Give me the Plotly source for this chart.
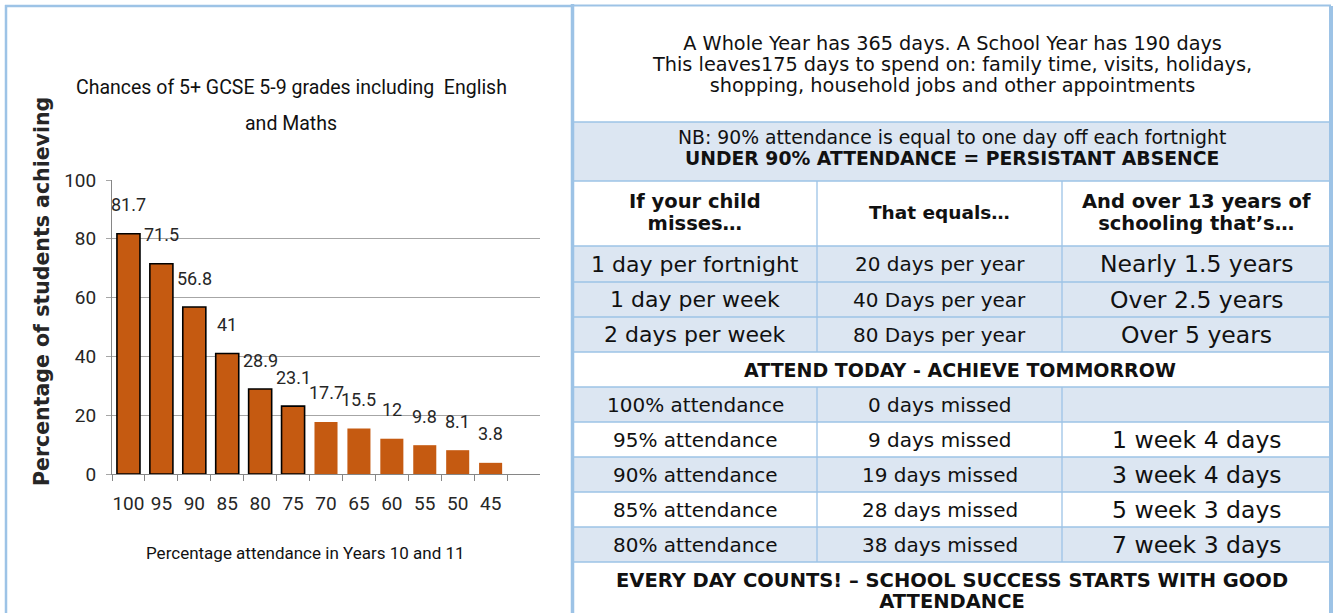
import plotly.graph_objects as go

W, H = 1335, 613

# ---------------- data ----------------
attendance = ["100", "95", "90", "85", "80", "75", "70", "65", "60", "55", "50", "45"]
achieving = [81.7, 71.5, 56.8, 41, 28.9, 23.1, 17.7, 15.5, 12, 9.8, 8.1, 3.8]
outlined = [True, True, True, True, True, True, False, False, False, False, False, False]

chart_title = ["Chances of 5+ GCSE 5-9 grades including  English", "and Maths"]
y_title = "Percentage of students achieving"
x_title = "Percentage attendance in Years 10 and 11"

intro_lines = [
    "A Whole Year has 365 days. A School Year has 190 days",
    "This leaves175 days to spend on: family time, visits, holidays,",
    "shopping, household jobs and other appointments",
]
nb_line = "NB: 90% attendance is equal to one day off each fortnight"
pa_line = "UNDER 90% ATTENDANCE = PERSISTANT ABSENCE"
header_cols = [["If your child", "misses…"], ["That equals…"], ["And over 13 years of", "schooling that’s…"]]
miss_freq = ["1 day per fortnight", "1 day per week", "2 days per week"]
miss_per_year = ["20 days per year", "40 Days per year", "80 Days per year"]
miss_13_years = ["Nearly 1.5 years", "Over 2.5 years", "Over 5 years"]
motto = "ATTEND TODAY - ACHIEVE TOMMORROW"
att_rates = ["100% attendance", "95% attendance", "90% attendance", "85% attendance", "80% attendance"]
days_missed = ["0 days missed", "9 days missed", "19 days missed", "28 days missed", "38 days missed"]
weeks_missed = ["", "1 week 4 days", "3 week 4 days", "5 week 3 days", "7 week 3 days"]
footer_lines = ["EVERY DAY COUNTS! – SCHOOL SUCCESS STARTS WITH GOOD", "ATTENDANCE"]

# ---------------- styles ----------------
BAR = "#C55A11"
BORDER = "#9DC3E6"
BLUE = "#DCE6F2"
CFONT = "Roboto, Liberation Sans, sans-serif"
TFONT = "DejaVu Sans, Verdana, sans-serif"
TXT = "#111111"


def px(x):
    return x / W


def py(y):
    return 1 - y / H


fig = go.Figure()
fig.add_trace(go.Bar(
    x=attendance, y=achieving, width=0.7,
    marker=dict(color=BAR,
                line=dict(color="black", width=[1.6 if o else 0 for o in outlined])),
    hoverinfo="x+y", showlegend=False,
))

annotations = []
# data labels (placed by category index on the category axis)
for i, v in enumerate(achieving):
    annotations.append(dict(x=i, y=v, xref="x", yref="y", text=f"{v:g}", showarrow=False,
                            xanchor="center", yanchor="middle", yshift=29,
                            font=dict(family=CFONT, size=18, color="#262626")))

# chart title & axis titles
for txt, yy in zip(chart_title, [87, 123]):
    annotations.append(dict(x=px(291), y=py(yy), xref="paper", yref="paper", text=txt,
                            xanchor="center", yanchor="middle",
                            showarrow=False, font=dict(family=CFONT, size=19.5, color="#111111")))
annotations.append(dict(x=px(42), y=py(292), xref="paper", yref="paper", text=f"<b>{y_title}</b>",
                        textangle=-90, showarrow=False, xanchor="center", yanchor="middle",
                        font=dict(family="DejaVu Sans, sans-serif", size=20.5, color="#262626")))
annotations.append(dict(x=px(305), y=py(553), xref="paper", yref="paper", text=x_title,
                        xanchor="center", yanchor="middle",
                        showarrow=False, font=dict(family=CFONT, size=17, color="#111111")))

shapes = []
# left panel border
shapes.append(dict(type="line", xref="paper", yref="paper", x0=px(6), x1=px(6), y0=py(5), y1=0,
                   line=dict(color=BORDER, width=2.5)))
shapes.append(dict(type="line", xref="paper", yref="paper", x0=px(5), x1=px(572), y0=py(6), y1=py(6),
                   line=dict(color=BORDER, width=2.5)))

# ---------------- table ----------------
rows_y = [5, 122, 181, 246, 282, 317, 352, 387, 422, 457, 492, 527, 562, 613]
cols_x = [573, 817, 1062, 1331]
fills = ["white", BLUE, "white", BLUE, BLUE, BLUE, "white", BLUE, "white", BLUE, "white", BLUE, "white"]
split_rows = [2, 3, 4, 5, 7, 8, 9, 10, 11]

for i, f in enumerate(fills):
    shapes.append(dict(type="rect", xref="paper", yref="paper", x0=px(cols_x[0]), x1=px(cols_x[-1]),
                       y0=py(rows_y[i]), y1=py(rows_y[i + 1]), fillcolor=f, line=dict(width=0), layer="below"))
for yy in rows_y[1:-1]:
    shapes.append(dict(type="line", xref="paper", yref="paper", x0=px(cols_x[0]), x1=px(cols_x[-1]),
                       y0=py(yy), y1=py(yy), line=dict(color=BORDER, width=1.3)))
for i in split_rows:
    for cx in cols_x[1:-1]:
        shapes.append(dict(type="line", xref="paper", yref="paper", x0=px(cx), x1=px(cx),
                           y0=py(rows_y[i]), y1=py(rows_y[i + 1]), line=dict(color=BORDER, width=1.3)))
# outer table borders
shapes.append(dict(type="line", xref="paper", yref="paper", x0=px(572.5), x1=px(572.5), y0=py(4), y1=0,
                   line=dict(color=BORDER, width=3.5)))
shapes.append(dict(type="line", xref="paper", yref="paper", x0=px(1331), x1=px(1331), y0=py(6), y1=0,
                   line=dict(color=BORDER, width=4)))
shapes.append(dict(type="line", xref="paper", yref="paper", x0=px(572), x1=px(1331), y0=py(5.5), y1=py(5.5),
                   line=dict(color=BORDER, width=2)))


def tx(text, x, y, size=20, bold=False):
    annotations.append(dict(x=px(x), y=py(y), xref="paper", yref="paper",
                            text=f"<b>{text}</b>" if bold else text, showarrow=False,
                            xanchor="center", yanchor="middle",
                            font=dict(family=TFONT, size=size, color=TXT)))


def mtx(lines, x, y, sizes, spacing, bolds):
    """multi-line text: glyph sizes set per line, line pitch set by the base font size"""
    parts = []
    for line, s, b in zip(lines, sizes, bolds):
        t = f"<span style='font-size:{s}px'>{line}</span>"
        parts.append(f"<b>{t}</b>" if b else t)
    annotations.append(dict(x=px(x), y=py(y), xref="paper", yref="paper",
                            text="<br>".join(parts), showarrow=False,
                            xanchor="center", yanchor="middle", align="center",
                            font=dict(family=TFONT, size=spacing / 1.3, color=TXT)))


cx_all = (cols_x[0] + cols_x[-1]) / 2
col_c = [(cols_x[i] + cols_x[i + 1]) / 2 for i in range(3)]

mtx(intro_lines, cx_all, 64.5, [19.3] * 3, 21, [False] * 3)
mtx([nb_line, pa_line], cx_all, 148, [18.8, 18.8], 20.5, [False, True])
for c, lines in enumerate(header_cols):
    if len(lines) == 1:
        tx(lines[0], col_c[c], 212, 18.5, bold=True)
    else:
        mtx(lines, col_c[c], 212, [19.5] * 2, 22, [True, True])
for r in range(3):
    yy = (rows_y[3 + r] + rows_y[4 + r]) / 2
    tx(miss_freq[r], col_c[0], yy, 22)
    tx(miss_per_year[r], col_c[1], yy, 20)
    tx(miss_13_years[r], col_c[2], yy, 23.5)
tx(motto, cx_all + 8, 370, 19, bold=True)
for r in range(5):
    yy = (rows_y[7 + r] + rows_y[8 + r]) / 2
    tx(att_rates[r], col_c[0], yy, 20)
    tx(days_missed[r], col_c[1], yy, 20)
    tx(weeks_missed[r], col_c[2], yy, 23.5)
mtx(footer_lines, cx_all, 591, [19.5, 19.5], 21, [True, True])

fig.update_layout(
    width=W, height=H,
    margin=dict(l=0, r=0, t=0, b=0, autoexpand=False),
    paper_bgcolor="white", plot_bgcolor="white",
    xaxis=dict(domain=[px(112), px(540)], type="category", categoryorder="array", categoryarray=attendance,
               range=[-0.5, 12.5], tickson="boundaries", ticks="outside", ticklen=6, tickcolor="#868686",
               showline=True, linecolor="#868686", linewidth=1, showgrid=False, ticklabelstandoff=12,
               tickangle=0, automargin=False,
               tickfont=dict(family=CFONT, size=19, color="#262626"), fixedrange=True),
    yaxis=dict(domain=[py(474), py(180)], range=[0, 100], dtick=20, showgrid=True, gridcolor="#A6A6A6",
               gridwidth=1, ticks="outside", ticklen=5, tickcolor="#A6A6A6", showline=True,
               linecolor="#868686", zeroline=False, ticklabelstandoff=6, automargin=False,
               tickfont=dict(family=CFONT, size=19, color="#262626"), fixedrange=True),
    annotations=annotations,
    shapes=shapes,
)

fig.write_html(
    "out.html",
    config={"displayModeBar": False},
    post_script="document.body.style.margin='0px';document.body.style.overflow='hidden';",
)
